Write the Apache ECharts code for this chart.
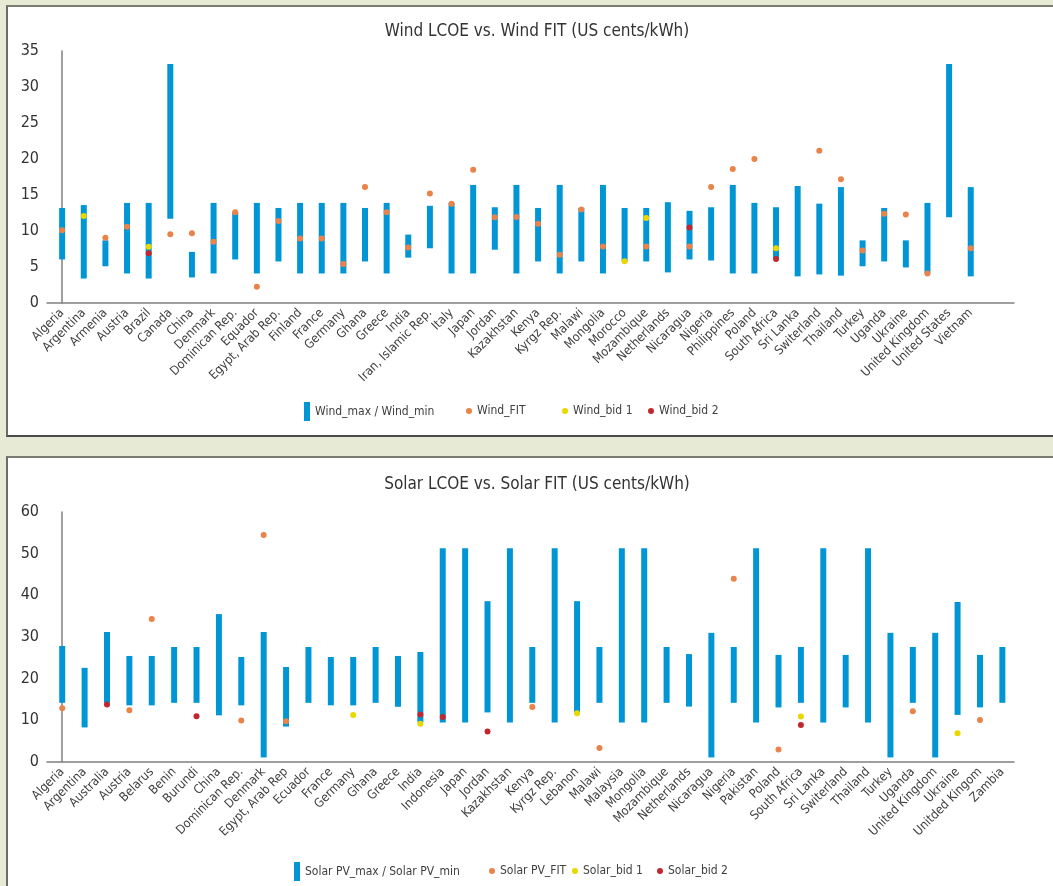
<!DOCTYPE html>
<html lang="en">
<head>
<meta charset="UTF-8">
<title>Wind and Solar LCOE vs FIT</title>
<script src="https://cdn.jsdelivr.net/npm/echarts@6/dist/echarts.min.js"></script>
<style>
    body { margin: 0; background: #e7ebd6; overflow: hidden; width: 1053px; height: 886px; position: relative; }
    .box {
        position: absolute; left: 6px; width: 1100px; background: #fff;
        border-left: 2px solid #6d6d68; border-top: 2px solid #7b7c72; border-bottom: 2px solid #4b4b4b;
        box-sizing: border-box;
    }
    .chart { position: absolute; left: 0; width: 1053px; }
</style>
</head>
<body>
<div class="box" style="top:5px;height:432px;"></div>
<div class="box" style="top:456px;height:460px;"></div>
<div id="wind" class="chart" style="top:0;height:440px;"></div>
<div id="solar" class="chart" style="top:446px;height:440px;"></div>

<script type="text/javascript">
    // ---- wind data (US cents/kWh) ----
    var windCountries = ['Algeria','Argentina','Armenia','Austria','Brazil','Canada','China','Denmark',
        'Dominican Rep.','Equador','Egypt, Arab Rep.','Finland','France','Germany','Ghana','Greece','India',
        'Iran, Islamic Rep.','Italy','Japan','Jordan','Kazakhstan','Kenya','Kyrgz Rep.','Malawi','Mongolia',
        'Morocco','Mozambique','Netherlands','Nicaragua','Nigeria','Philippines','Poland','South Africa',
        'Sri Lanka','Switerland','Thailand','Turkey','Uganda','Ukraine','United Kingdom','United States','Vietnam'];
    var windMax = [13.2,13.6,8.7,13.9,13.9,33.2,7.1,13.9,12.6,13.9,13.2,13.9,13.9,13.9,13.2,13.9,9.5,13.5,
        13.9,16.4,13.3,16.4,13.2,16.4,13.2,16.4,13.2,13.2,14.0,12.8,13.3,16.4,13.9,13.3,16.25,13.8,16.1,
        8.7,13.2,8.7,13.9,33.2,16.1];
    var windMin = [6.05,3.4,5.1,4.1,3.4,11.7,3.55,4.1,6.05,4.1,5.77,4.1,4.1,4.1,5.77,4.1,6.3,7.6,4.1,4.1,
        7.4,4.1,5.77,4.1,5.77,4.1,5.77,5.77,4.25,6.05,5.9,4.1,4.1,6.2,3.7,3.97,3.8,5.1,5.77,4.94,4.1,11.9,3.7];
    var windFit = [10.1,null,9.05,10.6,null,9.55,9.7,8.5,12.6,2.25,11.4,8.95,8.95,5.4,16.1,12.6,7.7,15.2,
        13.8,18.5,11.9,11.95,11.0,6.7,13.0,7.85,null,7.85,null,7.85,16.1,18.6,20.0,null,null,21.15,17.2,
        7.3,12.4,12.3,4.1,null,7.6];
    var windBid1 = [null,12.1,null,null,7.8,null,null,null,null,null,null,null,null,null,null,null,null,null,
        null,null,null,null,null,null,null,null,5.8,11.8,null,null,null,null,null,7.6,null,null,null,
        null,null,null,null,null,null];
    var windBid2 = [null,null,null,null,6.9,null,null,null,null,null,null,null,null,null,null,null,null,null,
        null,null,null,null,null,null,null,null,null,null,null,10.5,null,null,null,6.1,null,null,null,
        null,null,null,null,null,null];

    // ---- solar data (US cents/kWh) ----
    var solarCountries = ['Algeria','Argentina','Australia','Austria','Belarus','Benin','Burundi','China',
        'Dominican Rep.','Denmark','Egypt, Arab Rep','Ecuador','France','Germany','Ghana','Greece','India',
        'Indonesia','Japan','Jordan','Kazakhstan','Kenya','Kyrgz Rep.','Lebanon','Malawi','Malaysia','Mongolia',
        'Mozambique','Netherlands','Nicaragua','Nigeria','Pakistan','Poland','South Africa','Sri Lanka',
        'Switerland','Thailand','Turkey','Uganda','United Kingdom','Ukraine','Unitded Kingom','Zambia'];
    var solarMax = [27.85,22.6,31.2,25.45,25.45,27.6,27.6,35.5,25.2,31.2,22.8,27.6,25.2,25.2,27.6,25.45,26.4,
        51.3,51.3,38.6,51.3,27.6,51.3,38.6,27.6,51.3,51.3,27.6,25.9,31.0,27.6,51.3,25.7,27.6,51.3,25.7,51.3,
        31.0,27.6,31.0,38.4,25.7,27.6];
    var solarMin = [14.2,8.3,14.2,13.6,13.6,14.2,14.2,11.2,13.6,1.1,8.5,14.2,13.6,13.6,14.2,13.25,9.5,9.5,9.5,
        11.9,9.5,14.2,9.5,11.9,14.2,9.5,9.5,14.2,13.3,1.1,14.2,9.5,13.1,14.2,9.5,13.1,9.5,1.1,14.2,1.1,11.3,
        13.1,14.2];
    var solarFit = [12.9,null,null,12.45,34.3,null,null,null,9.95,54.5,9.8,null,null,null,null,null,null,null,
        null,null,null,13.2,null,null,3.35,null,null,null,null,null,44.0,null,3.0,null,null,null,null,null,
        12.2,null,null,10.1,null];
    var solarBid1 = [null,null,null,null,null,null,null,null,null,null,null,null,null,11.3,null,null,9.2,null,
        null,null,null,null,null,11.7,null,null,null,null,null,null,null,null,null,10.9,null,null,null,null,
        null,null,6.9,null,null];
    var solarBid2 = [null,null,13.8,null,null,null,11.0,null,null,null,null,null,null,null,null,null,11.4,10.8,
        null,7.3,null,null,null,null,null,null,null,null,null,null,null,null,null,8.9,null,null,null,null,
        null,null,null,null,null];

    var FONT = '"Liberation Sans Narrow", "DejaVu Sans Condensed", "Roboto Condensed", "Noto Sans", sans-serif';
    var BLUE = '#0096d6', ORANGE = '#ea834a', YELLOW = '#e9d700', RED = '#c1272d';

    function pairs(vals) {
        var out = [];
        vals.forEach(function (v, i) { if (v != null) out.push([i, v]); });
        return out;
    }

    function buildOption(cfg) {
        var ranges = cfg.max.map(function (v, i) { return [i, cfg.min[i], v]; });
        var idx = cfg.cats.map(function (c, i) { return i; });
        var dot = function (name, vals, color) {
            return {
                name: name, type: 'scatter', data: pairs(vals), symbol: 'circle', symbolSize: 6,
                itemStyle: { color: color, opacity: 1 }, z: 5, silent: true
            };
        };
        // one legend block per series so each sits where the original has it
        var legends = cfg.names.map(function (n, i) {
            return {
                left: cfg.legendLeft[i], top: i === 0 ? cfg.legendTop : cfg.legendTop + 3, padding: 0,
                itemWidth: 6, itemHeight: 19,
                textStyle: { fontFamily: FONT, fontSize: 12, color: '#404040' },
                data: [{ name: n, icon: i === 0 ? 'rect' : 'circle' }]
            };
        });
        return {
            animation: false,
            textStyle: { fontFamily: FONT },
            title: {
                text: cfg.title, left: 532, top: cfg.titleTop, textAlign: 'center',
                textStyle: { fontFamily: FONT, fontSize: 17, fontWeight: 'normal', color: '#333' }
            },
            legend: legends,
            grid: cfg.grid,
            xAxis: {
                type: 'value', min: cfg.xMin, max: cfg.xMax,
                axisLine: { show: true, lineStyle: { color: '#808080', width: 1.5 } },
                axisTick: { show: false },
                splitLine: { show: false },
                axisLabel: {
                    customValues: idx, rotate: 45, margin: 8,
                    fontFamily: FONT, fontSize: 12.5, color: '#404040',
                    formatter: function (v) { return cfg.cats[v]; }
                }
            },
            yAxis: {
                type: 'value', min: 0, max: cfg.yMax, interval: cfg.yStep,
                axisLine: { show: true, lineStyle: { color: '#808080', width: 1.5 } },
                axisTick: { show: false },
                splitLine: { show: false },
                axisLabel: { fontFamily: FONT, fontSize: 16, color: '#333', margin: 8 }
            },
            series: [
                {
                    name: cfg.names[0], type: 'custom', data: ranges,
                    encode: { x: 0, y: [1, 2] },
                    itemStyle: { color: BLUE },
                    renderItem: function (params, api) {
                        var top = api.coord([api.value(0), api.value(2)]);
                        var bot = api.coord([api.value(0), api.value(1)]);
                        return {
                            type: 'rect',
                            shape: { x: top[0] - 3, y: top[1], width: 6, height: bot[1] - top[1] },
                            style: { fill: BLUE }
                        };
                    },
                    z: 2
                },
                dot(cfg.names[1], cfg.fit, ORANGE),
                dot(cfg.names[2], cfg.bid1, YELLOW),
                dot(cfg.names[3], cfg.bid2, RED)
            ]
        };
    }

    var windChart = echarts.init(document.getElementById('wind'), null, { renderer: 'canvas' });
    windChart.setOption(buildOption({
        title: 'Wind LCOE vs. Wind FIT (US cents/kWh)', titleTop: 18,
        names: ['Wind_max / Wind_min', 'Wind_FIT', 'Wind_bid 1', 'Wind_bid 2'],
        cats: windCountries, max: windMax, min: windMin, fit: windFit, bid1: windBid1, bid2: windBid2,
        grid: { left: 47, top: 51, width: 967, height: 252 },
        xMin: -0.7, xMax: 44, yMax: 35, yStep: 5,
        legendLeft: [304, 466, 562, 648], legendTop: 402
    }));

    var solarChart = echarts.init(document.getElementById('solar'), null, { renderer: 'canvas' });
    solarChart.setOption(buildOption({
        title: 'Solar LCOE vs. Solar FIT (US cents/kWh)', titleTop: 25,
        names: ['Solar PV_max / Solar PV_min', 'Solar PV_FIT', 'Solar_bid 1', 'Solar_bid 2'],
        cats: solarCountries, max: solarMax, min: solarMin, fit: solarFit, bid1: solarBid1, bid2: solarBid2,
        grid: { left: 47, top: 66, width: 967, height: 250 },
        xMin: -0.68, xMax: 42.52, yMax: 60, yStep: 10,
        legendLeft: [294, 489, 572, 657], legendTop: 416
    }));
</script>
</body>
</html>
